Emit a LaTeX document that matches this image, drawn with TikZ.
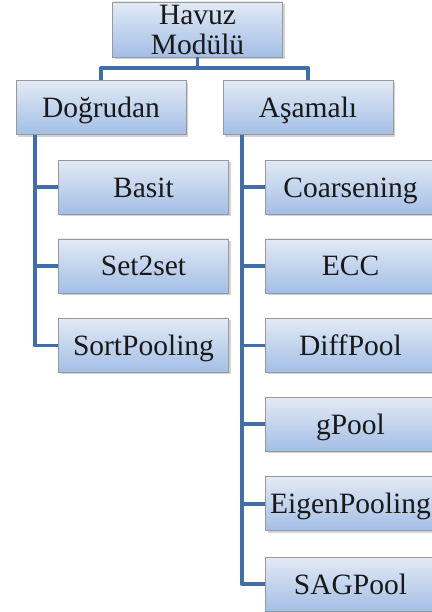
\documentclass[tikz,border=0pt]{standalone}
\usepackage{fontspec}
\setmainfont{Liberation Serif}
\usetikzlibrary{positioning,shadows}

\definecolor{boxtop}{RGB}{226,234,246}
\definecolor{boxbot}{RGB}{163,190,229}
\definecolor{linkblue}{RGB}{64,110,165}

\begin{document}
\begin{tikzpicture}[x=1pt, y=-1pt, node distance={24.5pt},
  main/.style = {draw=gray!80, line width=0.6pt, top color=boxtop, bottom color=boxbot,
    minimum width=170pt, minimum height=54pt, inner sep=0pt, align=center,
    text=black!90, font=\fontsize{29.5}{30}\selectfont,
    drop shadow={shadow xshift=2pt, shadow yshift=-2pt, opacity=0.35, fill=gray}},
  leaf/.style = {main, text height=20pt, text depth=0pt},
  link/.style = {draw=linkblue, line width=3.8pt, line join=round}]
\useasboundingbox (0,0) rectangle (431,612);
\node[main, minimum height=55pt] (havuz) at (197.5,29.5) {Havuz\\Modülü};
\node[leaf] (dogru) [below=23pt of havuz, xshift=-96.5pt] {Doğrudan};
\node[leaf] (asama) [below=23pt of havuz, xshift=110.5pt] {Aşamalı};
% left column
\node[leaf] (basit) [below=25pt of dogru, xshift=42.5pt] {Basit};
\node[leaf] (set) [below=24pt of basit] {Set2set};
\node[leaf] (sort) [below=25pt of set] {SortPooling};
% right column
\node[leaf] (coarse) [below=25pt of asama, xshift=42.5pt] {Coarsening};
\node[leaf] (ecc) [below=24pt of coarse] {ECC};
\node[leaf] (diff) [below=25pt of ecc] {DiffPool};
\node[leaf] (gpool) [below=24pt of diff] {gPool};
\node[leaf] (eigen) [below=25pt of gpool] {EigenPooling};
\node[leaf] (sag) [below=26pt of eigen] {SAGPool};
\draw[link] (havuz.south) -- ++(0,11) -| (dogru.north);
\draw[link] (havuz.south) -- ++(0,11) -| (asama.north);
\draw[link] (dogru.south west) ++(19,0) |- (basit.west);
\draw[link] (dogru.south west) ++(19,0) |- (set.west);
\draw[link] (dogru.south west) ++(19,0) |- (sort.west);
\draw[link] (asama.south west) ++(19,0) |- (coarse.west);
\draw[link] (asama.south west) ++(19,0) |- (ecc.west);
\draw[link] (asama.south west) ++(19,0) |- (diff.west);
\draw[link] (asama.south west) ++(19,0) |- (gpool.west);
\draw[link] (asama.south west) ++(19,0) |- (eigen.west);
\draw[link] (asama.south west) ++(19,0) |- (sag.west);
\end{tikzpicture}
\end{document}
